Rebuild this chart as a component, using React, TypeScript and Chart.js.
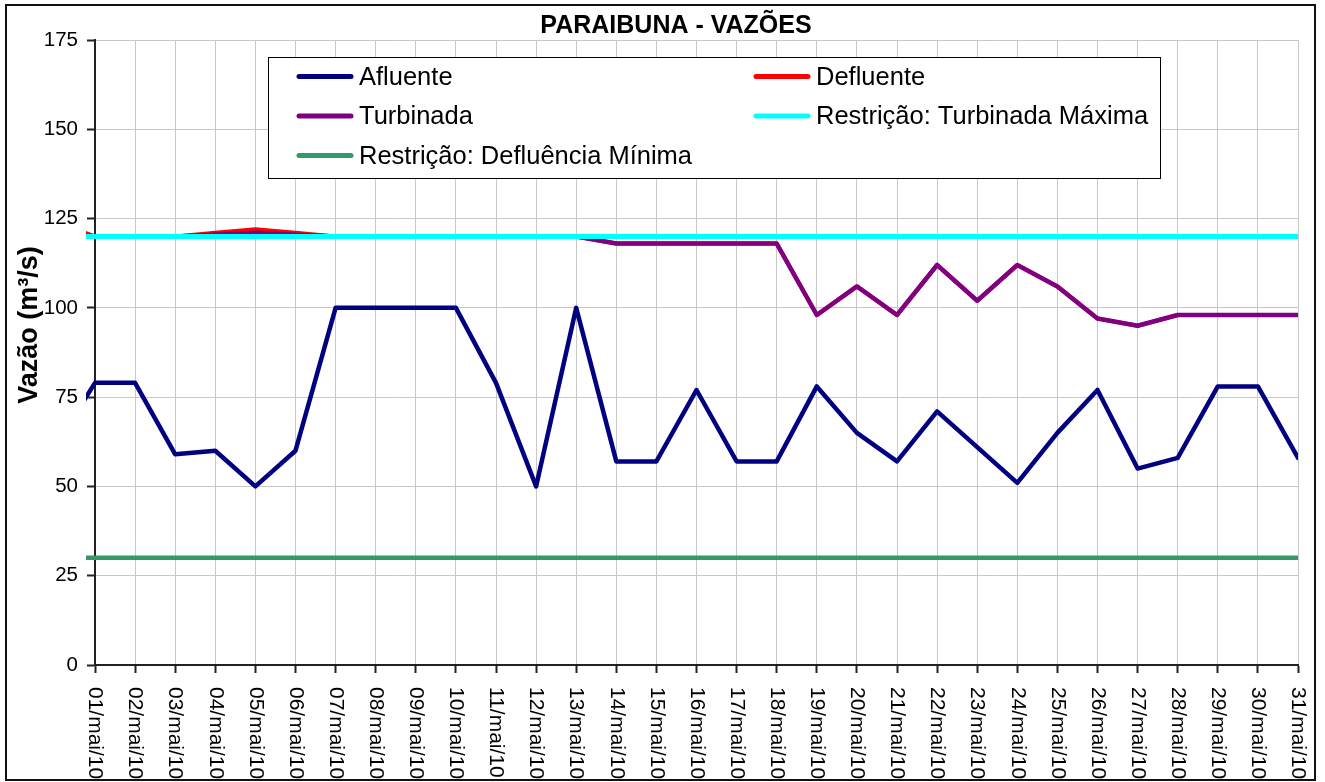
import React, { useEffect, useRef } from "react";
import { Chart, registerables } from "chart.js";

Chart.register(...registerables);

const TITLE = "PARAIBUNA - VAZÕES";
const Y_TITLE = "Vazão (m³/s)";

// first label (30/abr/10) lies just left of the visible axis, as in the original
const dates = [
  "30/abr/10",
  "01/mai/10", "02/mai/10", "03/mai/10", "04/mai/10", "05/mai/10", "06/mai/10", "07/mai/10",
  "08/mai/10", "09/mai/10", "10/mai/10", "11/mai/10", "12/mai/10", "13/mai/10", "14/mai/10",
  "15/mai/10", "16/mai/10", "17/mai/10", "18/mai/10", "19/mai/10", "20/mai/10", "21/mai/10",
  "22/mai/10", "23/mai/10", "24/mai/10", "25/mai/10", "26/mai/10", "27/mai/10", "28/mai/10",
  "29/mai/10", "30/mai/10", "31/mai/10",
];

const afluente = [
  61,
  79, 79, 59, 60, 50, 60, 100, 100, 100, 100,
  79, 50, 100, 57, 57, 77, 57, 57, 78, 65,
  57, 71, 61, 51, 65, 77, 55, 58, 78, 78, 58,
];

const defluente = [
  124,
  120, 120, 120, 121, 122, 121, 120, 120, 120, 120,
  120, 120, 120, 118, 118, 118, 118, 118, 98, 106,
  98, 112, 102, 112, 106, 97, 95, 98, 98, 98, 98,
];

const turbinada = [
  120,
  120, 120, 120, 120.5, 121, 120.5, 120, 120, 120, 120,
  120, 120, 120, 118, 118, 118, 118, 118, 98, 106,
  98, 112, 102, 112, 106, 97, 95, 98, 98, 98, 98,
];

const turbinadaMaxima = [
  120,
  120, 120, 120, 120, 120, 120, 120, 120, 120, 120,
  120, 120, 120, 120, 120, 120, 120, 120, 120, 120,
  120, 120, 120, 120, 120, 120, 120, 120, 120, 120, 120,
];

const defluenciaMinima = [
  30,
  30, 30, 30, 30, 30, 30, 30, 30, 30, 30,
  30, 30, 30, 30, 30, 30, 30, 30, 30, 30,
  30, 30, 30, 30, 30, 30, 30, 30, 30, 30, 30,
];

const Y_MIN = 0;
const Y_MAX = 175;
const Y_STEP = 25;

const FONT = "'Liberation Sans', Arial, Helvetica, sans-serif";

const framePlugin = {
  id: "frame",
  beforeDraw(chart: any) {
    const ctx = chart.ctx;
    ctx.save();
    ctx.fillStyle = "#ffffff";
    ctx.fillRect(0, 0, chart.width, chart.height);
    ctx.restore();
  },
  afterDraw(chart: any) {
    const ctx = chart.ctx;
    ctx.save();
    // title
    ctx.fillStyle = "#000";
    ctx.font = `bold 25px ${FONT}`;
    ctx.textAlign = "center";
    ctx.textBaseline = "middle";
    ctx.fillText(TITLE, 676, 26);

    // y-axis title, rotated counter-clockwise
    ctx.save();
    ctx.translate(30, 325);
    ctx.rotate(-Math.PI / 2);
    ctx.font = `bold 27px ${FONT}`;
    ctx.textAlign = "center";
    ctx.textBaseline = "middle";
    ctx.fillText(Y_TITLE, 0, 0);
    ctx.restore();

    // x labels rotated clockwise
    const xs = chart.scales.x;
    ctx.font = `21px ${FONT}`;
    ctx.textAlign = "left";
    ctx.textBaseline = "middle";
    for (let i = 1; i < dates.length; i++) {
      const x = xs.getPixelForValue(i);
      ctx.save();
      ctx.translate(x, 687);
      ctx.rotate(Math.PI / 2);
      ctx.fillText(dates[i], 0, 0);
      ctx.restore();
    }

    // outer frame
    ctx.strokeStyle = "#111";
    ctx.lineWidth = 2;
    ctx.strokeRect(6, 5, 1309, 775);
    ctx.restore();
  },
};

const legendPlugin = {
  id: "boxLegend",
  afterDatasetsDraw(chart: any) {
    const ctx = chart.ctx;
    ctx.save();
    ctx.fillStyle = "#ffffff";
    ctx.fillRect(268, 57, 892, 121);
    ctx.strokeStyle = "#000";
    ctx.lineWidth = 1;
    ctx.strokeRect(268.5, 57.5, 892, 121);
    const rows = [76.5, 116, 155.5];
    const cols = [297, 754];
    ctx.font = `25.5px ${FONT}`;
    ctx.textAlign = "left";
    ctx.textBaseline = "middle";
    chart.data.datasets.forEach((ds: any, i: number) => {
      const r = Math.floor(i / 2);
      const c = i % 2;
      const x = cols[c];
      const y = rows[r];
      ctx.strokeStyle = ds.borderColor;
      ctx.lineWidth = 5;
      ctx.lineCap = "round";
      ctx.beginPath();
      ctx.moveTo(x + 2, y);
      ctx.lineTo(x + 54, y);
      ctx.stroke();
      ctx.fillStyle = "#000";
      ctx.fillText(ds.label, x + 62, y + 1);
    });
    ctx.restore();
  },
};

export default function App() {
  const canvasRef = useRef<HTMLCanvasElement | null>(null);

  useEffect(() => {
    if (!canvasRef.current) return;
    const common = {
      pointRadius: 0,
      pointHoverRadius: 0,
      tension: 0,
      fill: false,
      borderJoinStyle: "round",
      borderCapStyle: "round",
      clip: { left: 9, top: 4, right: 0, bottom: 4 },
    };
    const chart = new Chart(canvasRef.current, {
      type: "line",
      data: {
        labels: dates,
        datasets: [
          { ...common, label: "Afluente", data: afluente, borderColor: "#000080", borderWidth: 4.5, order: 5 },
          { ...common, label: "Defluente", data: defluente, borderColor: "#FF0000", borderWidth: 4, order: 4 },
          { ...common, label: "Turbinada", data: turbinada, borderColor: "#800080", borderWidth: 4.5, order: 3 },
          { ...common, label: "Restrição: Turbinada Máxima", data: turbinadaMaxima, borderColor: "#00FFFF", borderWidth: 5, order: 2 },
          { ...common, label: "Restrição: Defluência Mínima", data: defluenciaMinima, borderColor: "#339966", borderWidth: 4.5, order: 1 },
        ] as any,
      },
      options: {
        animation: false,
        responsive: false,
        maintainAspectRatio: false,
        events: [],
        layout: { padding: { left: 0, top: 40, right: 27, bottom: 0 } },
        plugins: {
          legend: { display: false },
          title: { display: false },
          tooltip: { enabled: false },
        },
        scales: {
          x: {
            type: "category",
            min: dates[1],
            max: dates[dates.length - 1],
            offset: false,
            afterFit: (scale: any) => {
              scale.height = 117;
            },
            grid: {
              color: "#c8c8c8",
              lineWidth: 1,
              drawTicks: true,
              tickLength: 8,
              tickColor: "#222",
              tickWidth: 2,
            },
            border: { display: true, color: "#222", width: 2 },
            ticks: { display: false, autoSkip: false, maxRotation: 0 },
          },
          y: {
            min: Y_MIN,
            max: Y_MAX,
            afterFit: (scale: any) => {
              scale.width = 95;
            },
            grid: {
              color: "#c8c8c8",
              lineWidth: 1,
              drawTicks: true,
              tickLength: 8,
              tickColor: "#222",
              tickWidth: 2,
            },
            border: { display: true, color: "#222", width: 2 },
            ticks: {
              stepSize: Y_STEP,
              color: "#000",
              padding: 9,
              font: { family: FONT, size: 20.5 },
            },
            title: { display: false },
          },
        },
      } as any,
      plugins: [framePlugin, legendPlugin],
    });
    return () => chart.destroy();
  }, []);

  return (
    <div style={{ position: "absolute", left: 0, top: 0, width: 1325, height: 782, background: "#fff" }}>
      <canvas ref={canvasRef} width={1325} height={782} style={{ display: "block", width: 1325, height: 782 }} />
    </div>
  );
}
